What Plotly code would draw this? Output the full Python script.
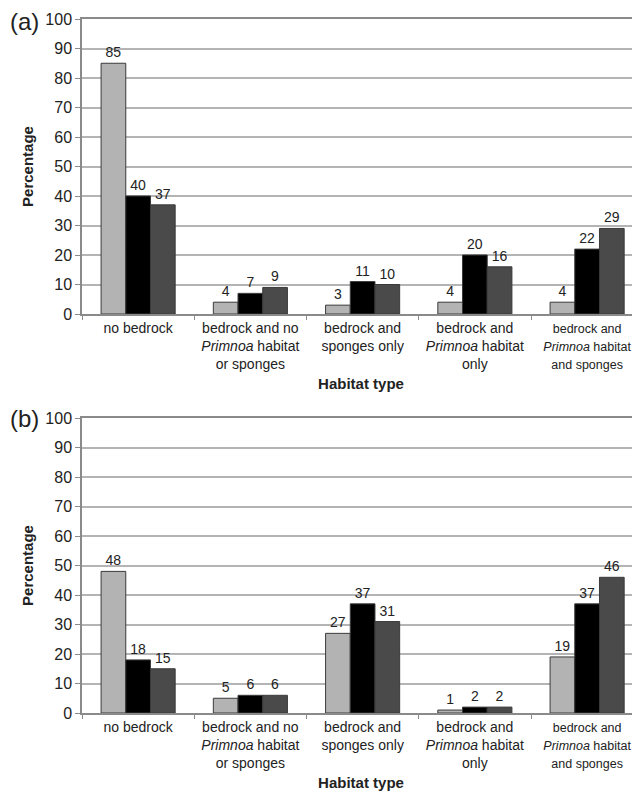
import plotly.graph_objects as go
from plotly.subplots import make_subplots

categories = ["no bedrock",
              "bedrock and no<br><i>Primnoa</i> habitat<br>or sponges",
              "bedrock and<br>sponges only",
              "bedrock and<br><i>Primnoa</i> habitat<br>only",
              "bedrock and<br><i>Primnoa</i> habitat<br>and sponges"]

a_light = [85, 4, 3, 4, 4]
a_black = [40, 7, 11, 20, 22]
a_dark = [37, 9, 10, 16, 29]

b_light = [48, 5, 27, 1, 19]
b_black = [18, 6, 37, 2, 37]
b_dark = [15, 6, 31, 2, 46]

y_ticks = list(range(0, 101, 10))

colors = ["#b3b3b3", "#000000", "#4a4a4a"]
FONT = "Liberation Sans, Arial, sans-serif"
TXT = "#222222"

# tick texts: the last label sits at the very right edge, so draw it a little smaller
tick_text = list(categories)
tick_text[-1] = '<span style="font-size:12.5px">' + categories[-1] + "</span>"

fig = make_subplots(rows=2, cols=1)

for row, series in [(1, [a_light, a_black, a_dark]), (2, [b_light, b_black, b_dark])]:
    for vals, col in zip(series, colors):
        fig.add_trace(go.Bar(
            x=categories, y=vals,
            marker=dict(color=col, line=dict(color="#3a3a3a", width=1)),
            text=[str(v) for v in vals], textposition="outside",
            textfont=dict(size=14, color=TXT, family=FONT),
            cliponaxis=False, showlegend=False,
        ), row=row, col=1)

# page has an 8px body margin; keep the figure small enough to avoid scrollbars
W, H = 632, 783
mt, mb, ml, mr = 11, 78, 74, 0
ph = H - mt - mb
pw = W - ml - mr

plot_bottom = H - mb
dom_a = [(plot_bottom - 306) / ph, 1.0]
dom_b = [0.0, 295 / ph]

xcommon = dict(
    type="category", range=[-0.5, 4.471], showline=True, mirror=True,
    linecolor="#8a8a8a", linewidth=1.5, ticks="outside", tickson="boundaries",
    ticklen=4, tickcolor="#8a8a8a", showgrid=False,
    tickvals=categories, ticktext=tick_text,
    tickfont=dict(size=14, color=TXT, family=FONT),
    title=dict(text="<b>Habitat type</b>", font=dict(size=15, color=TXT, family=FONT), standoff=8),
)
ycommon = dict(
    range=[0, 100], tickvals=y_ticks, showline=True, linecolor="#8a8a8a", linewidth=1.5,
    ticks="outside", ticklen=5, tickcolor="#8a8a8a", showgrid=True,
    gridcolor="#b4b4b4", gridwidth=1.5, zeroline=False,
    tickfont=dict(size=16, color=TXT, family=FONT),
    title=dict(text="<b>Percentage</b>", font=dict(size=15, color=TXT, family=FONT), standoff=8),
)

fig.update_layout(
    width=W, height=H,
    margin=dict(l=ml, r=mr, t=mt, b=mb),
    paper_bgcolor="white", plot_bgcolor="white",
    barmode="group", bargap=0.34, bargroupgap=0.0,
    font=dict(family=FONT, color=TXT),
    xaxis=dict(**xcommon, domain=[0, 1], anchor="y"),
    yaxis=dict(**ycommon, domain=dom_a, anchor="x"),
    xaxis2=dict(**xcommon, domain=[0, 1], anchor="y2"),
    yaxis2=dict(**ycommon, domain=dom_b, anchor="x2"),
)

fig.add_annotation(text="(a)", xref="paper", yref="paper", x=(0 - ml) / pw, y=dom_a[1] - (2 / ph),
                   xanchor="left", yanchor="middle", showarrow=False,
                   font=dict(size=24, color=TXT, family=FONT))
fig.add_annotation(text="(b)", xref="paper", yref="paper", x=(0 - ml) / pw, y=dom_b[1],
                   xanchor="left", yanchor="middle", showarrow=False,
                   font=dict(size=24, color=TXT, family=FONT))

fig.write_html("out.html")
